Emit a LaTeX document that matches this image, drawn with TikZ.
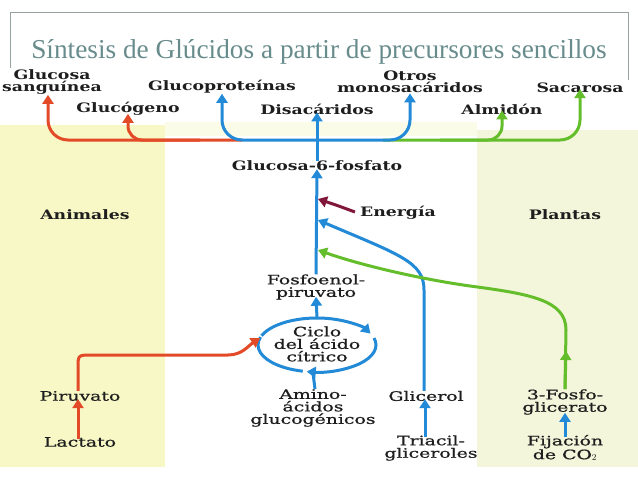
\documentclass[tikz,border=0pt]{standalone}
\usepackage{fontspec}
\setmainfont{DejaVu Serif}
\newfontfamily\labfont[FakeStretch=1.33]{DejaVu Serif}
\newfontfamily\labrfont[FakeStretch=1.45,FakeBold=0.8]{DejaVu Serif}
\newfontfamily\titlefont{Liberation Serif}
\usetikzlibrary{arrows.meta,calc}
\definecolor{cred}{RGB}{226,74,40}
\definecolor{cblue}{RGB}{34,138,214}
\definecolor{cgreen}{RGB}{100,190,44}
\definecolor{cmaroon}{RGB}{128,22,58}
\definecolor{ttl}{RGB}{104,140,140}
\definecolor{bgl}{RGB}{247,248,198}
\definecolor{bgr}{RGB}{243,246,218}
\definecolor{bgm}{RGB}{251,252,232}
\definecolor{boxg}{RGB}{150,162,162}
\definecolor{txt}{RGB}{30,30,30}
\begin{document}
\begin{tikzpicture}[x=1pt,y=-1pt,
  flow/.style={line width=3pt,-{Triangle[width=11pt,length=9pt]}},
  line/.style={line width=3pt},
  both/.style={line width=3pt,{Triangle[width=11pt,length=9pt]}-{Triangle[width=11pt,length=9pt]}},
  lab/.style={font=\labfont\bfseries\fontsize{13}{12.5}\selectfont,align=center,inner sep=0pt,text=txt},
  labr/.style={font=\labrfont\fontsize{13}{12.5}\selectfont,align=center,inner sep=0pt,text=txt},
]
\useasboundingbox (0,0) rectangle (638,479);
\fill[white] (0,0) rectangle (638,479);
% backgrounds
\fill[bgl] (0,125) rectangle (165,467);
\fill[bgr] (477,130) rectangle (638,467);
\fill[bgm] (165,122) rectangle (477,136);
% title box
\draw[boxg,line width=0.7pt] (10,68) -- (10,12) -- (628,12) -- (628,80);
\node[font=\titlefont\fontsize{27.3}{29}\selectfont,text=ttl,inner sep=0pt] (title) at (319,52) {Síntesis de Glúcidos a partir de precursores sencillos};

% labels
\node[lab] (gs) at (52,82) {Glucosa\\sanguínea};
\node[lab] (glucog) at (128,109) {Glucógeno};
\node[lab] (glucop) at (222,87) {Glucoproteínas};
\node[lab] (disac) at (317,109) {Disacáridos};
\node[lab] (otros) at (410,82) {Otros\\monosacáridos};
\node[lab] (sacar) at (580,88) {Sacarosa};
\node[lab] (almid) at (502,109) {Almidón};
\node[lab] (g6p) at (317,166) {Glucosa-6-fosfato};
\node[lab] (energia) at (398,213) {Energía};
\node[lab] (anim) at (85,215) {Animales};
\node[lab] (plant) at (565,215) {Plantas};
\node[labr] (fosfo) at (316,287) {Fosfoenol-\\piruvato};
\node[labr] (ciclo) at (317,344) {Ciclo\\del ácido\\cítrico};
\node[labr] (piruv) at (80,396) {Piruvato};
\node[labr] (lact) at (80,442) {Lactato};
\node[labr] (amino) at (313,408) {Amino-\\ácidos\\glucogénicos};
\node[labr] (glic) at (426,396) {Glicerol};
\node[labr] (triac) at (431,448) {Triacil-\\gliceroles};
\node[labr] (fosfog) at (565,402) {3-Fosfo-\\glicerato};
\node[labr] (fijac) at (565,448) {Fijación\\de CO$_2$};

% top tree
\draw[flow,cred,rounded corners=20] (242,140) -- (48,140) -- (gs.south -| 48,0);
\draw[flow,cred,rounded corners=14] (200,140) -- (glucog.south |- 0,140) -- ([yshift=2pt]glucog.south);
\draw[flow,cgreen,rounded corners=20] (383,140) -- (sacar.south |- 0,140) -- ([yshift=4pt]sacar.south);
\draw[flow,cgreen,rounded corners=14] (440,140) -- (almid.south |- 0,140) -- ([yshift=4pt]almid.south);
\draw[both,cblue,rounded corners=20] (glucop.south) -- (glucop.south |- 0,140) -- (otros.south |- 0,140) -- (otros.south);
\draw[flow,cblue] (g6p.north) -- ([yshift=2pt]disac.south);

% middle
\draw[flow,cblue] (fosfo.north) -- ([yshift=2pt]g6p.south);
\coordinate (eT) at (318,199);
\draw[flow,cmaroon] ([xshift=-5pt,yshift=1pt]energia.west) .. controls (336,205) .. (eT);
\coordinate (gT) at (318,220);
\draw[flow,cblue] (glic.north -| 424,0) -- (424,290) .. controls (424,262) and (400,255) .. (gT);
\coordinate (fT) at (318,250);
\draw[flow,cgreen] (fosfog.north) -- (566,330) .. controls (566,300) and (530,294) .. (470,286) .. controls (420,279) and (360,265) .. (fT);
\draw[flow,cgreen] (fosfog.north) -- (566,351);

% cycle
\coordinate (cc) at (317,345);
\draw[flow,cblue] ($(cc)+(-160:59 and 27)$) arc[start angle=-160,end angle=-25,x radius=59,y radius=27];
\draw[flow,cblue] ($(cc)+(-15:59 and 27)$) arc[start angle=-15,end angle=100,x radius=59,y radius=27];
\draw[line,cblue] ($(cc)+(104:59 and 27)$) arc[start angle=104,end angle=197,x radius=59,y radius=27];
\draw[flow,cblue] ($(cc)+(-90:59 and 27)$) -- ([yshift=3pt]fosfo.south);
\draw[line,cblue] (amino.north -| 315,0) -- ($(cc)+(94:59 and 27)$);

% bottom
\draw[flow,cred] (piruv.north -| 78,0) -- (78,368) .. controls (78,355) .. (92,355) -- (228,355) .. controls (242,355) and (248,346) .. (260,338);
\draw[flow,cred] ([yshift=-2pt]lact.north -| 78,0) -- ([yshift=2pt]piruv.south -| 78,0);
\draw[flow,cblue] ([yshift=-2pt]triac.north -| 425,0) -- ([yshift=2pt]glic.south -| 425,0);
\draw[flow,cblue] ([yshift=-2pt]fijac.north) -- ([yshift=2pt]fosfog.south);
\end{tikzpicture}
\end{document}
